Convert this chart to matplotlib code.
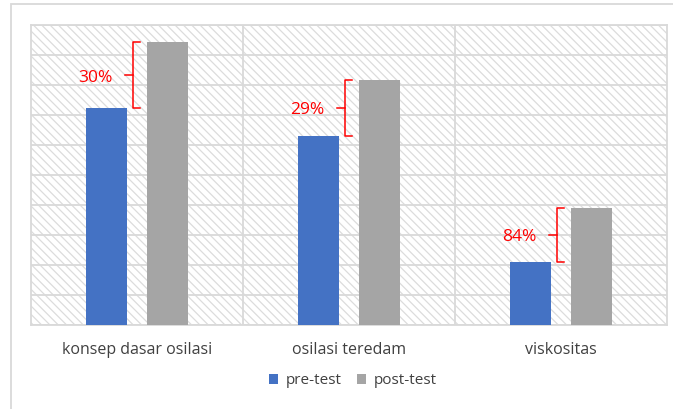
import matplotlib
matplotlib.use("Agg")
import matplotlib.pyplot as plt
from matplotlib.patches import Rectangle, Patch

categories = ["konsep dasar osilasi", "osilasi teredam", "viskositas"]
pre_test = [72.3, 63.0, 21.0]
post_test = [94.3, 81.7, 39.0]
gains = ["30%", "29%", "84%"]
series_names = ["pre-test", "post-test"]

plt.rcParams['font.family'] = ['Open Sans', 'DejaVu Sans']
plt.rcParams['hatch.color'] = '#dcdcdc'
plt.rcParams['hatch.linewidth'] = 0.9

W, H = 673, 409
fig = plt.figure(figsize=(W / 100, H / 100), dpi=100)
ax = fig.add_axes([31 / W, 1 - 325 / H, (667 - 31) / W, 300 / H])

# hatched background
ax.patch.set_facecolor('white')
bg = Rectangle((0, 0), 1, 1, transform=ax.transAxes, facecolor='white',
               edgecolor='#dcdcdc', hatch='\\\\\\\\', lw=0, zorder=0)
ax.add_patch(bg)

ax.set_xlim(0, 3)
ax.set_ylim(0, 100)
ax.set_yticks(range(0, 101, 10))
ax.set_yticklabels([])
ax.tick_params(axis='y', length=0)
ax.grid(axis='y', color='#d9d9d9', lw=1.3, zorder=1)
for xv in [1, 2]:
    ax.axvline(xv, color='#d9d9d9', lw=1.3, zorder=1)
for s in ax.spines.values():
    s.set_color('#d9d9d9')
    s.set_linewidth(1.3)

bw = 0.193
off = 0.143
blue = '#4472c4'
gray = '#a5a5a5'
centers = [i + 0.5 for i in range(len(categories))]
ax.bar([c - off for c in centers], pre_test, width=bw, color=blue, zorder=3)
ax.bar([c + off for c in centers], post_test, width=bw, color=gray, zorder=3)

ax.set_xticks(centers)
ax.set_xticklabels(categories, fontsize=11.5, color='#404040')
ax.tick_params(axis='x', length=0, pad=12)

red = '#ff0000'
bx_off = -0.02
for c, lo, hi, g in zip(centers, pre_test, post_test, gains):
    bx = c + bx_off
    ax.plot([bx + 0.035, bx, bx, bx + 0.035], [hi, hi, lo, lo], color=red,
            lw=1.1, solid_joinstyle='round', zorder=4)
    mid = (lo + hi) / 2
    ax.plot([bx - 0.035, bx], [mid, mid], color=red, lw=1.1, zorder=4)
    ax.text(c - 0.115, mid - 0.8, g, color=red, fontsize=12.5, ha='right', va='center', zorder=5)

handles = [Patch(facecolor=blue, edgecolor='none'), Patch(facecolor=gray, edgecolor='none')]
fig.legend(handles, series_names, loc='center', bbox_to_anchor=(0.524, 1 - 381 / H),
           ncol=2, frameon=False, fontsize=11, handlelength=0.6, handleheight=0.6,
           handletextpad=0.5, columnspacing=1.0, labelcolor='#404040')

fig.add_artist(Rectangle((11 / W, -0.01), 1, 1 - 4 / H + 0.01, transform=fig.transFigure,
                         facecolor='none', edgecolor='#d9d9d9', lw=1.3))

fig.savefig('out.png', dpi=100)
